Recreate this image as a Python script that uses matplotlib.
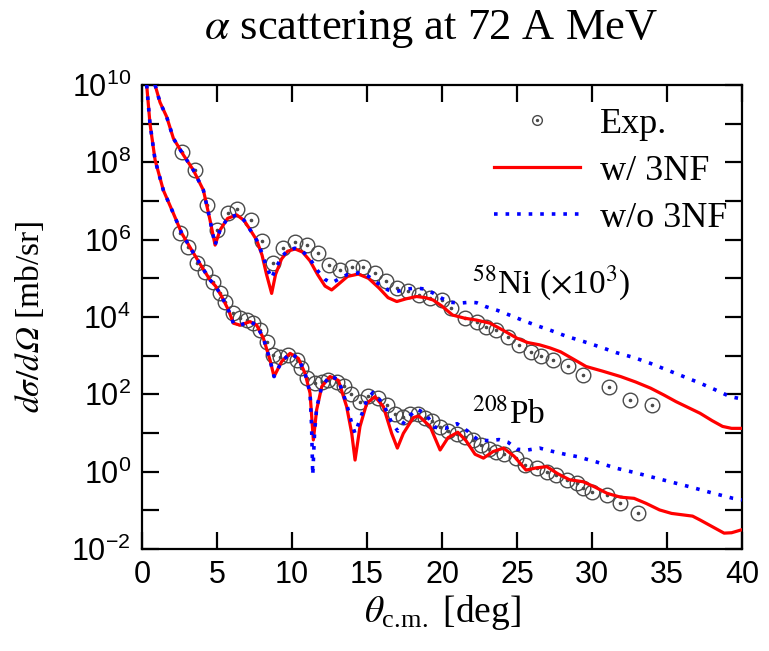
import numpy as np
import matplotlib
matplotlib.use('Agg')
import matplotlib.pyplot as plt
from matplotlib.lines import Line2D
from matplotlib.legend_handler import HandlerTuple
from matplotlib.ticker import FixedLocator, FuncFormatter, NullFormatter

plt.rcParams['font.family'] = 'serif'
plt.rcParams['font.serif'] = ['Liberation Serif', 'DejaVu Serif']
plt.rcParams['mathtext.fontset'] = 'stix'

# cross sections are stored as log10(dsigma/dOmega) in mb/sr; Ni already scaled by 10^3
ni_exp_th = [2.64, 3.53, 4.31, 5.02, 5.76, 6.36, 7.24, 8.02, 8.76, 9.38, 10.2, 10.98,
             11.76, 12.47, 13.2, 13.98, 14.76, 15.53, 16.24, 16.98, 17.76, 18.49, 19.2,
             19.98, 20.6, 21.5, 22.3, 22.9, 23.6, 24.4, 25.1, 25.9, 26.6, 27.4, 28.4,
             29.4, 31.1, 32.5, 34.0]
ni_exp_lg = [8.28, 7.80, 6.90, 6.25, 6.68, 6.79, 6.51, 5.97, 5.39, 5.78, 5.95, 5.86,
             5.65, 5.35, 5.22, 5.30, 5.29, 5.13, 4.94, 4.74, 4.66, 4.57, 4.50,
             4.44, 4.23, 3.97, 3.88, 3.75, 3.66, 3.49, 3.28, 3.10, 2.98, 2.89, 2.72,
             2.50, 2.20, 1.85, 1.72]

ni_3nf_th = [0.75, 0.87, 1.2, 1.64, 2.09, 2.76, 3.42, 4.09, 4.53, 4.87, 5.2, 5.7, 6.31,
             6.8, 7.3, 7.64, 8.0, 8.3, 8.64, 8.9, 9.3, 9.7, 10.2, 10.7, 11.2, 11.7, 12.2,
             12.64, 13.1, 13.7, 14.42, 15.1, 15.8, 16.4, 16.98, 17.6, 18.3, 18.9, 19.4,
             20.0, 20.7, 21.5, 22.3, 23.2, 24.1, 25.0, 25.7, 26.5, 27.2, 27.9, 28.8,
             29.6, 30.7, 31.9, 32.9, 33.9, 34.8, 35.6, 36.4, 37.2, 38.0, 38.7, 39.3, 40.0]
ni_3nf_lg = [10.6, 10.0, 9.55, 9.18, 8.62, 8.19, 7.80, 7.28, 6.51, 5.86, 6.25, 6.55, 6.64,
             6.5, 6.2, 5.99, 5.6, 5.1, 4.61, 5.1, 5.5, 5.7, 5.76, 5.68, 5.45, 5.1, 4.8,
             4.70, 4.85, 5.05, 5.11, 5.0, 4.75, 4.5, 4.40, 4.47, 4.53, 4.5, 4.44,
             4.28, 4.05, 3.97, 3.92, 3.84, 3.65, 3.45, 3.34, 3.28, 3.2, 3.10, 2.9,
             2.72, 2.6, 2.46, 2.32, 2.16, 1.98, 1.81, 1.66, 1.51, 1.32, 1.17, 1.12, 1.12]

ni_no3nf_th = [0.75, 0.87, 1.2, 1.64, 2.09, 2.76, 3.42, 4.09, 4.53, 4.87, 5.2, 5.7, 6.31,
               6.8, 7.3, 7.64, 8.0, 8.3, 8.64, 8.9, 9.3, 9.7, 10.2, 10.7, 11.2, 11.7,
               12.2, 12.64, 13.1, 13.7, 14.42, 15.1, 15.8, 16.4, 16.98, 17.6, 18.3,
               18.9, 19.4, 20.0, 20.6, 21.2, 21.8, 22.3, 22.9, 23.7, 24.5, 25.4, 26.3,
               27.2, 28.3, 29.4, 30.5, 31.6, 32.8, 33.9, 35.0, 36.1, 37.2, 38.2, 39.2, 40.0]
ni_no3nf_lg = [10.6, 10.0, 9.55, 9.18, 8.62, 8.19, 7.80, 7.28, 6.51, 5.86, 6.25, 6.55,
               6.64, 6.5, 6.2, 5.99, 5.65, 5.3, 5.0, 5.25, 5.55, 5.72, 5.78, 5.7, 5.5,
               5.2, 4.97, 4.88, 4.98, 5.1, 5.14, 5.05, 4.85, 4.7, 4.66, 4.72, 4.75,
               4.72, 4.62, 4.48, 4.38, 4.36, 4.38, 4.37, 4.27, 4.17, 4.05, 3.91, 3.78,
               3.66, 3.5, 3.37, 3.23, 3.08, 2.95, 2.80, 2.63, 2.46, 2.29, 2.12, 1.94, 1.88]

pb_exp_th = [2.53, 3.09, 3.64, 4.2, 4.76, 5.2, 5.5, 6.09, 6.53, 6.98, 7.42, 7.87, 8.31,
             8.76, 9.2, 9.76, 10.3, 10.6, 11.0, 11.53, 11.98, 12.42, 12.98, 13.45, 13.9,
             14.5, 15.09, 15.76, 16.31, 16.87, 17.42, 17.87, 18.42, 18.87, 19.31, 19.87,
             20.42, 20.98, 21.53, 22.09, 22.6, 23.1, 23.6, 24.1, 24.9, 25.5, 26.3, 26.98,
             27.6, 28.3, 28.98, 29.4, 29.98, 30.98, 31.87, 33.09]
pb_exp_lg = [6.17, 5.82, 5.39, 5.17, 4.90, 4.62, 4.38, 4.10, 3.97, 3.92, 3.84, 3.67, 3.36,
             3.02, 2.97, 3.02, 2.89, 2.67, 2.42, 2.29, 2.33, 2.37, 2.33, 2.22, 2.0,
             1.81, 1.96, 1.90, 1.72, 1.49, 1.42, 1.50, 1.50, 1.38, 1.32, 1.15,
             1.06, 0.97, 0.90, 0.82, 0.70, 0.58, 0.52, 0.46, 0.35, 0.17, 0.09, 0.0,
             -0.09, -0.22, -0.30, -0.43, -0.52, -0.60, -0.82, -1.07]

pb_3nf_th = [0.2, 0.31, 0.53, 0.87, 1.42, 2.09, 2.64, 3.31, 3.98, 4.53, 4.9, 5.31, 5.76,
             6.09, 6.53, 7.2, 7.64, 8.09, 8.53, 8.8, 9.31, 9.87, 10.42, 10.87, 11.2, 11.42,
             11.64, 11.98, 12.53, 13.09, 13.64, 13.98, 14.2, 14.53, 14.98, 15.53, 16.09,
             16.64, 17.02, 17.42, 18.09, 18.45, 19.2, 19.87, 20.4, 21.05, 21.6, 22.2,
             22.76, 23.4, 24.1, 24.8, 25.6, 26.3, 26.98, 27.7, 28.5, 29.4, 30.2, 31.0,
             31.9, 32.8, 33.6, 34.5, 35.3, 36.1, 36.7, 37.2, 38.0, 38.8, 39.3, 40.0]
pb_3nf_lg = [10.6, 10.0, 9.0, 8.06, 7.28, 6.68, 6.17, 5.73, 5.30, 4.96, 4.8, 4.53, 4.18,
             3.84, 3.79, 3.88, 3.79, 3.45, 2.89, 2.46, 2.85, 3.06, 2.93, 2.54, 2.03, 0.82,
             1.6, 2.2, 2.46, 2.36, 1.68, 0.99, 0.30, 1.17, 1.77, 1.94, 1.68,
             0.99, 0.61, 0.99, 1.40, 1.44, 1.17, 0.56, 0.88, 1.02, 0.80, 0.45,
             0.35, 0.52, 0.61, 0.40, 0.04, 0.10, 0.13, -0.05, -0.21, -0.26, -0.40, -0.56,
             -0.66, -0.69, -0.82, -0.99, -1.08, -1.12, -1.15, -1.25, -1.42, -1.59, -1.58, -1.50]

pb_no3nf_th = [0.2, 0.31, 0.53, 0.87, 1.42, 2.09, 2.64, 3.31, 3.98, 4.53, 4.9, 5.31, 5.76,
               6.09, 6.53, 7.2, 7.64, 8.09, 8.53, 8.8, 9.31, 9.87, 10.42, 10.87, 11.2,
               11.3, 11.38, 11.5, 11.64, 11.98, 12.53, 13.09, 13.64, 13.98, 14.2, 14.53,
               14.98, 15.4, 16.09, 16.6, 17.05, 17.5, 18.3, 18.9, 19.5, 20.2, 21.0, 21.7,
               22.4, 23.2, 23.8, 24.4, 25.0, 25.7, 26.5, 27.3, 28.2, 29.0, 30.3, 31.6,
               32.8, 33.9, 35.2, 36.5, 38.0, 39.4, 40.0]
pb_no3nf_lg = [10.6, 10.0, 9.0, 8.06, 7.28, 6.68, 6.17, 5.73, 5.30, 4.96, 4.8, 4.53, 4.18,
               3.84, 3.79, 3.88, 3.79, 3.45, 2.89, 2.46, 2.85, 3.06, 2.93, 2.54, 2.03,
               1.2, -0.09, 1.0, 1.65, 2.2, 2.48, 2.38, 1.75, 1.25, 0.99, 1.35,
               1.85, 2.05, 1.75, 1.3, 1.05, 1.3, 1.62, 1.5, 1.15, 1.12, 1.24, 1.05,
               0.82, 0.8, 0.83, 0.76, 0.58, 0.56, 0.61, 0.53, 0.45, 0.39, 0.25, 0.09,
               -0.02, -0.13, -0.26, -0.39, -0.55, -0.69, -0.73]

def pw(v):
    return 10.0 ** np.asarray(v)

fig = plt.figure(figsize=(7.69, 6.51), dpi=100)
ax = fig.add_axes([0.1847, 0.1567, 0.7803, 0.7127])

circ_kw = dict(ls='none', marker='o', ms=10.5, mfc='none', mec='#4a4a4a', mew=1.0, zorder=2)
dot_kw = dict(ls='none', marker='o', ms=1.6, color='#4a4a4a', zorder=2)

for th, lg in [(ni_exp_th, ni_exp_lg), (pb_exp_th, pb_exp_lg)]:
    ax.plot(th, pw(lg), **circ_kw)
    ax.plot(th, pw(lg), **dot_kw)

for th, lg in [(ni_3nf_th, ni_3nf_lg), (pb_3nf_th, pb_3nf_lg)]:
    ax.plot(th, pw(lg), color='#ff0000', lw=2.3, zorder=3)

for th, lg in [(ni_no3nf_th, ni_no3nf_lg), (pb_no3nf_th, pb_no3nf_lg)]:
    ax.plot(th, pw(lg), color='#0000ff', lw=2.6, ls=(0, (1, 2.2)), zorder=4)

ax.set_yscale('log')
ax.set_xlim(0, 40)
ax.set_ylim(1e-2, 1e10)

ax.xaxis.set_major_locator(FixedLocator(np.arange(0, 41, 5)))
ax.yaxis.set_major_locator(FixedLocator([10.0 ** k for k in range(-2, 11, 2)]))
ax.yaxis.set_minor_locator(FixedLocator([10.0 ** k for k in range(-1, 10, 2)]))
ax.yaxis.set_minor_formatter(NullFormatter())
ax.yaxis.set_major_formatter(FuncFormatter(
    lambda v, p: r'$\mathregular{10^{%d}}$' % int(round(np.log10(v)))))

ax.tick_params(which='both', direction='in', length=12, width=1.6,
               top=True, right=True, labelsize=22, pad=8)
for lab in ax.get_xticklabels() + ax.get_yticklabels():
    lab.set_fontfamily('Liberation Sans')
for s in ax.spines.values():
    s.set_linewidth(1.6)

# mathtext pads every '.', pull the subscript letters back together
ax.set_xlabel(r'$\theta_{\mathregular{c.\!m.}}$ [deg]', fontsize=27, labelpad=2)
ax.set_ylabel('$d\\sigma/d\U0001D6FA$ [mb/sr]', fontsize=24)
ax.yaxis.set_label_coords(-0.16, 0.5)
fig.text(0.560, 0.955, r'$\alpha$ scattering at 72 A MeV', fontsize=32,
         ha='center', va='center')

ax.text(22, 10 ** 4.62, r'$^{58}$Ni ($\times$10$^{3}$)', fontsize=24)
ax.text(22, 10 ** 1.26, r'$^{208}$Pb', fontsize=24)

leg_circ = Line2D([], [], ls='none', marker='o', ms=7, mfc='none', mec='#4a4a4a', mew=1.0)
leg_dot = Line2D([], [], ls='none', marker='o', ms=1.4, color='#4a4a4a')
leg_red = Line2D([], [], color='#ff0000', lw=2.3)
leg_blue = Line2D([], [], color='#0000ff', lw=2.6, ls=(0, (1, 2.2)))
ax.legend([(leg_circ, leg_dot), leg_red, leg_blue], ['Exp.', 'w/ 3NF', 'w/o 3NF'],
          handler_map={tuple: HandlerTuple(ndivide=1)},
          loc='upper right', bbox_to_anchor=(1.0, 0.983), frameon=False,
          fontsize=26, handlelength=2.4, handletextpad=0.55, labelspacing=0.38,
          borderaxespad=0.0)

plt.savefig('out.png', dpi=100)
